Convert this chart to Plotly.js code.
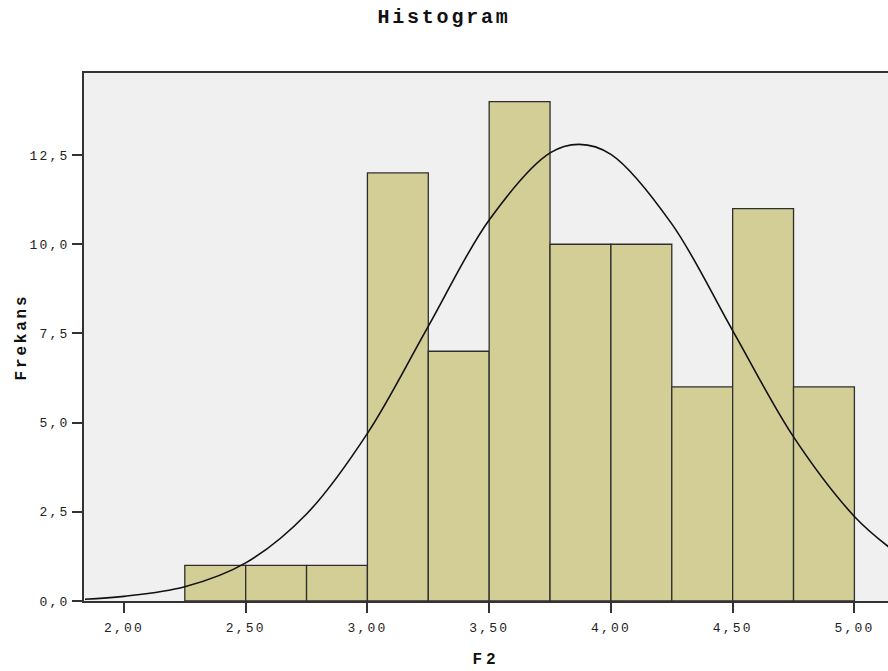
<!DOCTYPE html>
<html>
<head>
<meta charset="utf-8">
<script src="https://cdn.plot.ly/plotly-3.0.1.min.js"></script>
<style>
html,body{margin:0;padding:0;background:#fff;}
#chart{width:888px;height:671px;}
#chart .xtick text, #chart .ytick text{letter-spacing:2.2px;}
#chart .gtitle{letter-spacing:2.8px;}
#chart .xtitle{letter-spacing:4px;}
#chart .ytitle{letter-spacing:2.8px;}
</style>
</head>
<body>
<div id="chart"></div>
<script>
// Histogram bins (left edges) and frequencies
const binStarts = [2.25, 2.50, 2.75, 3.00, 3.25, 3.50, 3.75, 4.00, 4.25, 4.50, 4.75];
const counts    = [1, 1, 1, 12, 7, 14, 10, 10, 6, 11, 6];
const binWidth = 0.25;

// Normal curve points
const curveX = [1.84, 2.00, 2.25, 2.50, 2.75, 3.00, 3.25, 3.50, 3.75, 3.87, 4.00, 4.25, 4.50, 4.75, 5.00, 5.14];
const curveY = [0.05, 0.13, 0.40, 1.07, 2.44, 4.70, 7.70, 10.68, 12.56, 12.80, 12.52, 10.57, 7.58, 4.60, 2.37, 1.52];

const xTicks = [2.0, 2.5, 3.0, 3.5, 4.0, 4.5, 5.0];
const yTicks = [0, 2.5, 5.0, 7.5, 10.0, 12.5];

const mono = "Liberation Mono, Courier New, monospace";

const bars = {
  type: 'bar',
  x: binStarts,
  y: counts,
  width: binWidth,
  offset: 0,
  marker: {color: '#D3CE96', line: {color: '#2e2e2e', width: 1.3}},
  hoverinfo: 'x+y',
  showlegend: false
};
const curve = {
  type: 'scatter',
  mode: 'lines',
  x: curveX,
  y: curveY,
  line: {color: '#111', width: 1.6, shape: 'spline', smoothing: 1},
  hoverinfo: 'skip',
  showlegend: false
};

const layout = {
  width: 888, height: 671,
  margin: {l: 84, r: 0, t: 73, b: 70},
  paper_bgcolor: '#ffffff',
  plot_bgcolor: '#F0F0F0',
  separators: ',.',
  bargap: 0,
  title: {text: '<b>Histogram</b>', x: 0.5, xref: 'container', xanchor: 'center', y: 0.976, yanchor: 'middle',
          font: {family: mono, size: 20, color: '#111'}},
  xaxis: {
    range: [1.836, 5.138],
    tickvals: xTicks,
    tickformat: '.2f',
    ticks: 'outside', ticklen: 10, tickwidth: 2, tickcolor: '#333',
    ticklabelstandoff: 3,
    showline: true, linecolor: '#333', linewidth: 2, mirror: true,
    showgrid: false, zeroline: false,
    tickfont: {family: mono, size: 13, color: '#222'},
    title: {text: '<b>F2</b>', font: {family: mono, size: 16, color: '#111'}, standoff: 18}
  },
  yaxis: {
    range: [0, 14.8],
    tickvals: yTicks,
    tickformat: '.1f',
    ticks: 'outside', ticklen: 10, tickwidth: 2, tickcolor: '#333',
    showline: true, linecolor: '#333', linewidth: 2,
    showgrid: false, zeroline: false,
    tickfont: {family: mono, size: 13, color: '#222'},
    title: {text: '<b>Frekans</b>', font: {family: mono, size: 16, color: '#111'}, standoff: 8}
  }
};

Plotly.newPlot('chart', [bars, curve], layout, {displayModeBar: false, staticPlot: true});
</script>
</body>
</html>
